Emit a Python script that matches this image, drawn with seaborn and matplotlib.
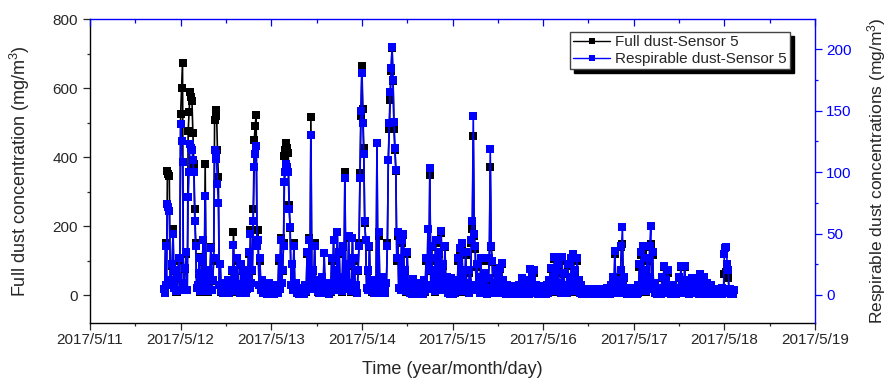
import numpy as np
import pandas as pd
import matplotlib
matplotlib.use('Agg')
import matplotlib.pyplot as plt
from matplotlib.ticker import MultipleLocator
import seaborn as sns

# ---------------- data, one reading every 15 min ----------------
start_time = '2017-05-11 19:30'
sample_step = '15min'

full_dust = [
    18, 7, 150, 28, 360, 350, 345, 35, 40, 85, 190, 20, 70, 10, 10, 50, 100, 14, 524, 600,
    673, 18, 35, 75, 120, 14, 475, 530, 587, 575, 562, 470, 379, 250, 150, 20, 25, 60, 110, 10,
    50, 95, 160, 28, 379, 40, 70, 10, 18, 48, 140, 14, 40, 100, 507, 520, 536, 420, 343, 28,
    90, 10, 20, 7, 35, 10, 15, 28, 40, 7, 10, 24, 70, 14, 182, 20, 50, 10, 100, 30,
    28, 7, 87, 18, 70, 10, 35, 7, 18, 50, 120, 20, 188, 35, 70, 250, 449, 490, 522, 150,
    188, 28, 100, 14, 40, 7, 18, 10, 28, 4, 10, 14, 35, 7, 8, 18, 20, 4, 14, 10,
    28, 7, 100, 18, 165, 35, 70, 150, 404, 420, 440, 425, 411, 260, 194, 28, 90, 14, 150, 20,
    35, 7, 10, 4, 20, 7, 8, 14, 18, 4, 28, 10, 120, 20, 165, 35, 515, 40, 70, 18,
    150, 28, 40, 10, 18, 7, 10, 20, 50, 14, 122, 18, 35, 7, 14, 4, 28, 10, 100, 18,
    160, 28, 70, 14, 184, 35, 120, 20, 50, 10, 140, 40, 356, 28, 85, 18, 165, 24, 35, 10,
    165, 20, 100, 14, 28, 7, 70, 150, 353, 520, 664, 540, 425, 210, 160, 20, 70, 14, 140, 28,
    35, 10, 20, 7, 40, 14, 440, 28, 170, 18, 28, 7, 50, 10, 18, 7, 35, 150, 390, 480,
    565, 650, 715, 620, 480, 420, 360, 100, 170, 20, 100, 14, 150, 28, 175, 18, 70, 10, 120, 20,
    35, 7, 20, 4, 45, 10, 14, 4, 28, 7, 10, 14, 35, 7, 18, 4, 40, 10, 100, 20,
    190, 70, 348, 28, 140, 18, 70, 10, 150, 28, 100, 14, 120, 20, 180, 35, 85, 14, 140, 24,
    50, 7, 28, 4, 45, 10, 18, 4, 40, 7, 20, 10, 100, 18, 125, 28, 133, 20, 65, 10,
    115, 24, 35, 7, 65, 14, 150, 190, 461, 170, 133, 28, 80, 14, 50, 7, 100, 18, 40, 7,
    60, 10, 20, 4, 45, 100, 370, 140, 95, 18, 35, 7, 65, 14, 50, 7, 75, 14, 90, 10,
    40, 7, 18, 4, 28, 7, 10, 4, 20, 4, 8, 4, 24, 7, 14, 4, 28, 7, 18, 4,
    45, 10, 35, 7, 40, 10, 20, 4, 75, 14, 50, 10, 65, 14, 28, 7, 18, 4, 24, 7,
    10, 4, 20, 7, 14, 4, 28, 7, 40, 10, 75, 18, 50, 10, 105, 20, 65, 14, 85, 18,
    35, 7, 100, 20, 60, 10, 28, 7, 85, 18, 50, 10, 100, 20, 110, 18, 65, 10, 100, 18,
    40, 7, 28, 4, 14, 4, 8, 4, 18, 4, 10, 4, 14, 4, 8, 4, 18, 4, 10, 4,
    14, 4, 8, 4, 18, 4, 10, 4, 14, 4, 20, 7, 10, 4, 28, 7, 50, 10, 120, 20,
    40, 10, 35, 7, 65, 140, 148, 28, 50, 10, 18, 4, 10, 4, 20, 4, 14, 4, 18, 4,
    10, 4, 28, 7, 80, 14, 115, 20, 130, 28, 65, 10, 100, 18, 50, 140, 147, 35, 115, 18,
    35, 7, 14, 4, 20, 4, 10, 4, 50, 10, 80, 14, 40, 7, 65, 14, 28, 4, 18, 4,
    28, 7, 10, 4, 20, 7, 50, 10, 80, 14, 35, 7, 80, 14, 40, 7, 20, 4, 35, 7,
    45, 10, 28, 7, 40, 10, 18, 4, 55, 10, 35, 7, 50, 10, 20, 4, 35, 7, 14, 4,
    28, 4, 10, 4, 14, 4, 8, 4, 18, 4, 10, 4, 20, 7, 60, 62, 67, 75, 50, 14,
    18, 4, 10, 4, 14,
]

respirable_dust = [
    5, 2, 40, 8, 74, 72, 68, 10, 12, 25, 50, 6, 20, 3, 3, 15, 30, 4, 139, 125,
    108, 5, 10, 22, 35, 4, 80, 100, 123, 120, 118, 110, 100, 60, 40, 6, 8, 18, 30, 3,
    15, 28, 45, 8, 81, 12, 20, 3, 5, 14, 38, 4, 12, 30, 118, 115, 111, 90, 75, 8,
    25, 3, 6, 2, 10, 3, 4, 8, 12, 2, 3, 7, 20, 4, 41, 6, 15, 3, 30, 9,
    8, 2, 25, 5, 20, 3, 10, 2, 5, 15, 35, 6, 50, 10, 20, 60, 104, 115, 121, 40,
    45, 8, 30, 4, 12, 2, 5, 3, 8, 1, 3, 4, 10, 2, 2, 5, 6, 1, 4, 3,
    8, 2, 30, 5, 45, 10, 20, 40, 92, 100, 107, 104, 100, 70, 55, 8, 25, 4, 40, 6,
    10, 2, 3, 1, 6, 2, 2, 4, 5, 1, 8, 3, 35, 6, 45, 10, 130, 12, 20, 5,
    40, 8, 12, 3, 5, 2, 3, 6, 15, 4, 34, 5, 10, 2, 4, 1, 8, 3, 30, 5,
    45, 8, 20, 4, 51, 10, 35, 6, 15, 3, 40, 12, 95, 8, 25, 5, 48, 7, 10, 3,
    46, 6, 30, 4, 8, 2, 20, 40, 95, 150, 181, 140, 115, 60, 45, 6, 20, 4, 40, 8,
    10, 3, 6, 2, 12, 4, 124, 8, 51, 5, 8, 2, 15, 3, 5, 2, 10, 40, 110, 140,
    165, 185, 202, 175, 141, 120, 102, 30, 51, 6, 30, 4, 45, 8, 50, 5, 20, 3, 35, 6,
    10, 2, 6, 1, 13, 3, 4, 1, 8, 2, 3, 4, 10, 2, 5, 1, 12, 3, 30, 6,
    54, 20, 103, 8, 40, 5, 20, 3, 45, 8, 30, 4, 35, 6, 52, 10, 25, 4, 40, 7,
    15, 2, 8, 1, 14, 3, 5, 1, 12, 2, 6, 3, 30, 5, 38, 8, 42, 6, 20, 3,
    35, 7, 10, 2, 20, 4, 45, 60, 146, 50, 40, 8, 25, 4, 15, 2, 30, 5, 12, 2,
    18, 3, 6, 1, 14, 30, 119, 40, 28, 5, 10, 2, 20, 4, 15, 2, 22, 4, 26, 3,
    12, 2, 5, 1, 8, 2, 3, 1, 6, 1, 2, 1, 7, 2, 4, 1, 8, 2, 5, 1,
    14, 3, 10, 2, 12, 3, 6, 1, 21, 4, 15, 3, 20, 4, 8, 2, 5, 1, 7, 2,
    3, 1, 6, 2, 4, 1, 8, 2, 12, 3, 22, 5, 15, 3, 31, 6, 20, 4, 25, 5,
    10, 2, 31, 6, 18, 3, 8, 2, 25, 5, 15, 3, 30, 6, 33, 5, 20, 3, 30, 5,
    12, 2, 8, 1, 4, 1, 2, 1, 5, 1, 3, 1, 4, 1, 2, 1, 5, 1, 3, 1,
    4, 1, 2, 1, 5, 1, 3, 1, 4, 1, 6, 2, 3, 1, 8, 2, 15, 3, 36, 6,
    12, 3, 10, 2, 20, 40, 55, 8, 15, 3, 5, 1, 3, 1, 6, 1, 4, 1, 5, 1,
    3, 1, 8, 2, 25, 4, 35, 6, 40, 8, 20, 3, 30, 5, 15, 40, 56, 10, 35, 5,
    10, 2, 4, 1, 6, 1, 3, 1, 15, 3, 24, 4, 12, 2, 20, 4, 8, 1, 5, 1,
    8, 2, 3, 1, 6, 2, 15, 3, 24, 4, 10, 2, 24, 4, 12, 2, 6, 1, 10, 2,
    14, 3, 8, 2, 12, 3, 5, 1, 17, 3, 10, 2, 15, 3, 6, 1, 10, 2, 4, 1,
    8, 1, 3, 1, 4, 1, 2, 1, 5, 1, 3, 1, 6, 2, 33, 38, 39, 25, 20, 4,
    5, 1, 3, 1, 4,
]

x_tick_labels = ['2017/5/11', '2017/5/12', '2017/5/13', '2017/5/14', '2017/5/15',
                 '2017/5/16', '2017/5/17', '2017/5/18', '2017/5/19']
left_ticks = [0, 200, 400, 600, 800]
right_ticks = [0, 50, 100, 150, 200]
series_names = ['Full dust-Sensor 5', 'Respirable dust-Sensor 5']

assert len(full_dust) == len(respirable_dust), (len(full_dust), len(respirable_dust))

# ---------------- build table ----------------
times = pd.date_range(start_time, periods=len(full_dust), freq=sample_step)
df = pd.DataFrame({'time': times, 'full': full_dust, 'resp': respirable_dust})

sns.set_style('white')
plt.rcParams['font.family'] = ['Liberation Sans', 'DejaVu Sans']
plt.rcParams['mathtext.fontset'] = 'custom'
plt.rcParams['mathtext.rm'] = 'Liberation Sans'
plt.rcParams['mathtext.it'] = 'Liberation Sans:italic'
plt.rcParams['mathtext.default'] = 'regular'

BLUE = '#0000ff'
W, H = 889, 382
fig = plt.figure(figsize=(W / 100, H / 100), dpi=100)
ax = fig.add_axes([90 / W, 1 - 323 / H, 725 / W, 304 / H])
ax2 = ax.twinx()

sns.lineplot(data=df, x='time', y='full', ax=ax, color='black', marker='s',
             markersize=5.6, mew=0, linewidth=1.2, label=series_names[0], legend=False)
sns.lineplot(data=df, x='time', y='resp', ax=ax2, color=BLUE, marker='s',
             markersize=5.6, mew=0, linewidth=1.2, label=series_names[1], legend=False)

# ---------------- axes ----------------
tick_dates = pd.to_datetime(x_tick_labels, format='%Y/%m/%d')
ax.set_xlim(tick_dates[0], tick_dates[-1])
ax.set_xticks(tick_dates)
ax.set_xticklabels(x_tick_labels)
ax.set_xticks(tick_dates[:-1] + pd.Timedelta(hours=12), minor=True)

ax.set_ylim(-81, 800)
ax.set_yticks(left_ticks)
ax.yaxis.set_minor_locator(MultipleLocator(100))
ax2.set_ylim(-22.8, 224.7)
ax2.set_yticks(right_ticks)
ax2.yaxis.set_minor_locator(MultipleLocator(25))

ax.tick_params(axis='x', which='both', bottom=True, top=False, direction='out',
               labelsize=11, pad=2.5, width=0.9)
ax.tick_params(axis='x', which='major', length=5)
ax.tick_params(axis='x', which='minor', length=2.5)
ax.tick_params(axis='y', which='both', left=True, right=False, direction='out',
               labelsize=11, pad=3.5, width=0.9)
ax.tick_params(axis='y', which='major', length=5)
ax.tick_params(axis='y', which='minor', length=2.5)

ax2.xaxis.set_visible(True)
ax2.xaxis.tick_top()
ax2.tick_params(axis='x', which='both', top=True, bottom=False, labeltop=False,
                labelbottom=False, direction='in', color=BLUE, width=0.9)
ax2.tick_params(axis='x', which='major', length=5)
ax2.tick_params(axis='x', which='minor', length=3)
ax2.tick_params(axis='y', which='both', right=True, left=False, direction='out',
                colors=BLUE, labelsize=11, pad=3, width=0.9)
ax2.tick_params(axis='y', which='major', length=5)
ax2.tick_params(axis='y', which='minor', length=2.5)
ax2.set_xlabel('')

for s in ['top', 'right']:
    ax.spines[s].set_visible(False)
for s in ['left', 'bottom']:
    ax2.spines[s].set_visible(False)
ax.spines['left'].set_color('black')
ax.spines['bottom'].set_color('black')
ax2.spines['top'].set_color(BLUE)
ax2.spines['right'].set_color(BLUE)
for a in (ax, ax2):
    for s in a.spines.values():
        s.set_linewidth(1.0)

ax.set_xlabel('Time (year/month/day)', fontsize=13)
ax.xaxis.set_label_coords(0.5, -0.125)
ax.set_ylabel('Full dust concentration (mg/m$^3$)', fontsize=13)
ax.yaxis.set_label_coords(-0.080, 0.5)
ax2.set_ylabel('Respirable dust concentrations (mg/m$^3$)', fontsize=12.5)
ax2.yaxis.set_label_coords(1.069, 0.5)

h1, l1 = ax.get_legend_handles_labels()
h2, l2 = ax2.get_legend_handles_labels()
leg = ax2.legend(h1 + h2, l1 + l2, loc='upper right', bbox_to_anchor=(0.9655, 0.957),
                 borderaxespad=0, fontsize=11, frameon=True, fancybox=False,
                 framealpha=1, edgecolor='#444444', handlelength=2.4,
                 handletextpad=0.35, borderpad=0.2, labelspacing=0.18,
                 shadow={'ox': 3, 'oy': -3, 'color': 'black', 'alpha': 1})
leg.get_frame().set_linewidth(1.0)
for lh in leg.get_lines():
    lh.set_markersize(5)
    lh.set_linewidth(1.0)

fig.savefig('out.png', dpi=100)
